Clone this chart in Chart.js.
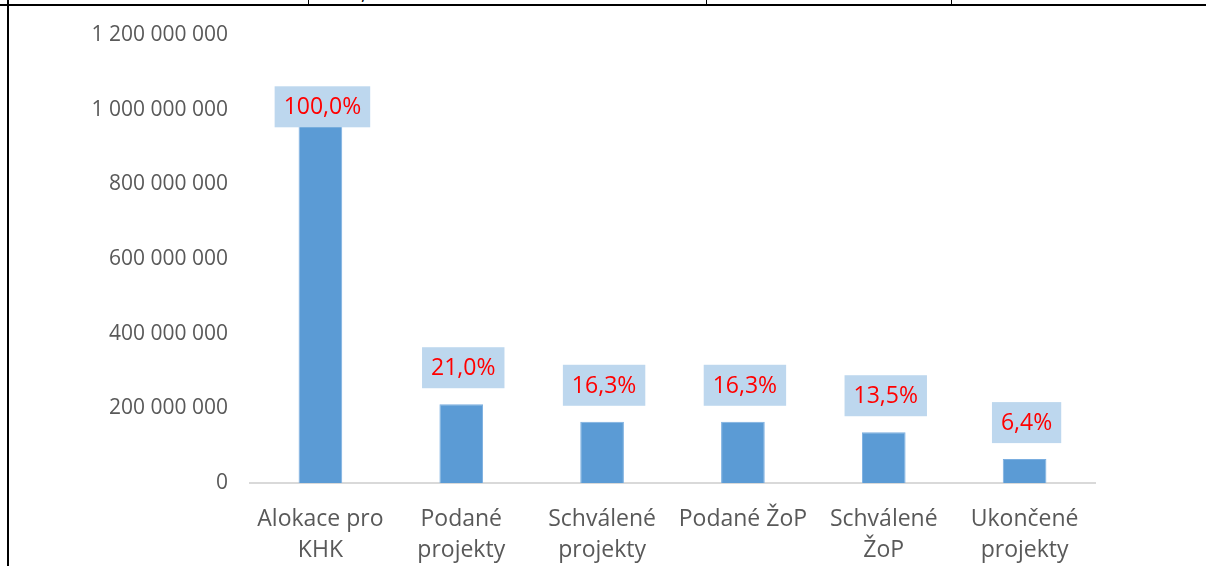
<!DOCTYPE html>
<html>
<head>
<meta charset="utf-8">
<script src="https://cdn.jsdelivr.net/npm/chart.js@4"></script>
<style>
    body { margin:0; background:#fff; width:1206px; height:566px; overflow:hidden; position:relative; font-family:"Open Sans", sans-serif; }
    #wrap { position:absolute; left:0; top:0; width:1206px; height:566px; }
    .line { position:absolute; background:#000; }
    .cut { position:absolute; left:361px; top:-22px; font-size:20px; color:#000; }
</style>
</head>
<body>
<div class="line" style="left:0;top:4px;width:1206px;height:2px;"></div>
<div class="line" style="left:7px;top:0;width:2px;height:566px;"></div>
<div class="line" style="left:308px;top:0;width:1px;height:5px;"></div>
<div class="line" style="left:706px;top:0;width:1px;height:5px;"></div>
<div class="line" style="left:951px;top:0;width:1px;height:5px;"></div>
<span class="cut">,</span>
<div id="wrap"><canvas id="myChart" width="1206" height="566"></canvas></div>
<script>
const categories = [["Alokace pro", "KHK"], ["Podané", "projekty"], ["Schválené", "projekty"], ["Podané ŽoP"], ["Schválené", "ŽoP"], ["Ukončené", "projekty"]];
const amounts = [1005000000, 211000000, 164000000, 164000000, 136000000, 64000000];
const shares = ["100,0%", "21,0%", "16,3%", "16,3%", "13,5%", "6,4%"];

function formatNumber(v){
    return String(v).replace(/\B(?=(\d{3})+(?!\d))/g, " ");
}

// draws the percentage boxes above each bar
const shareLabels = {
    id: "shareLabels",
    afterDatasetsDraw(chart){
        const ctx = chart.ctx;
        const meta = chart.getDatasetMeta(0);
        ctx.save();
        ctx.font = "23px 'Open Sans', sans-serif";
        ctx.textAlign = "center";
        ctx.textBaseline = "middle";
        meta.data.forEach(function(bar, i){
            const txt = shares[i];
            const w = ctx.measureText(txt).width + 18;
            const h = 41;
            let cy = bar.y - 16 - h / 2;
            if (cy - h / 2 < chart.chartArea.top + 30) {
                cy = bar.y - 1;
            }
            const cx = bar.x + 2;
            ctx.fillStyle = "#bdd7ee";
            ctx.fillRect(cx - w / 2, cy - h / 2, w, h);
            ctx.fillStyle = "#ff0000";
            ctx.fillText(txt, cx, cy + 1);
        });
        ctx.restore();
    }
};

const ctx = document.getElementById("myChart").getContext("2d");
const myChart = new Chart(ctx, {
    type: "bar",
    data: {
        labels: categories,
        datasets: [{
            data: amounts,
            backgroundColor: "#5b9bd5",
            borderColor: "#7aaee0",
            borderWidth: 1,
            barPercentage: 0.31,
            categoryPercentage: 1
        }]
    },
    options: {
        responsive: false,
        animation: false,
        layout: { padding: { left: 0, right: 111, top: 35, bottom: 0 } },
        plugins: { legend: { display: false }, tooltip: { enabled: false } },
        scales: {
            y: {
                min: 0,
                max: 1200000000,
                afterFit: function(scale){ scale.width = 250; },
                ticks: {
                    stepSize: 200000000,
                    padding: 14,
                    color: "#595959",
                    font: { size: 21, family: "'Open Sans', sans-serif" },
                    callback: function(v){ return formatNumber(v); }
                },
                grid: { display: false },
                border: { display: false }
            },
            x: {
                afterFit: function(scale){ scale.height = 83; },
                ticks: {
                    padding: 13,
                    color: "#595959",
                    font: { size: 23, family: "'Open Sans', sans-serif", lineHeight: 1.35 },
                    maxRotation: 0
                },
                grid: { display: false },
                border: { display: true, color: "#d9d9d9", width: 2 }
            }
        }
    },
    plugins: [shareLabels]
});
</script>
</body>
</html>
